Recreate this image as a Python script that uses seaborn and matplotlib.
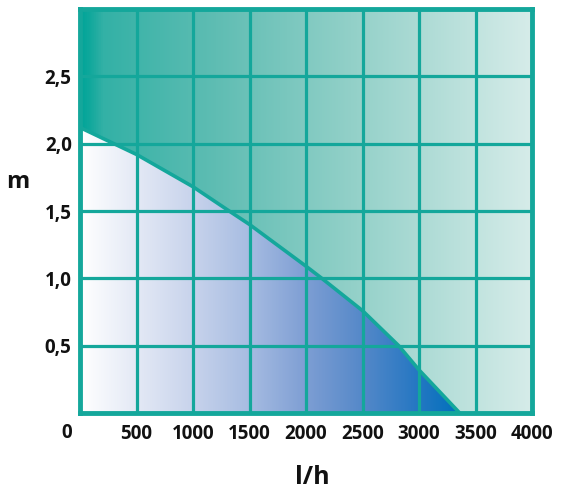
import numpy as np
import pandas as pd
import matplotlib
matplotlib.use("Agg")
import matplotlib.pyplot as plt
import seaborn as sns
from matplotlib.colors import LinearSegmentedColormap

# pump curve
flow = [0, 300, 500, 1000, 1320, 1500, 2000, 2140, 2500, 2820, 3000, 3360]
head = [2.12, 2.0, 1.92, 1.68, 1.5, 1.40, 1.09, 1.0, 0.76, 0.5, 0.32, 0.0]

x_ticks = [500, 1000, 1500, 2000, 2500, 3000, 3500, 4000]
y_ticks = [0.5, 1.0, 1.5, 2.0, 2.5]
y_labels = ["0,5", "1,0", "1,5", "2,0", "2,5"]

teal = "#14a79b"

sns.set_style("white")
plt.rcParams['font.family'] = ['Open Sans', 'DejaVu Sans']
plt.rcParams['font.weight'] = 'bold'

df = pd.DataFrame({"flow": flow, "head": head})

fig = plt.figure(figsize=(5.76, 5.0), dpi=100)
ax = fig.add_axes([80 / 576, 1 - 413 / 500, 452 / 576, 404 / 500])

xmax, ymax = 4000, 3.0

# region above the curve (teal gradient)
fx = flow + [xmax]
fy = head + [0.0]
top = ax.fill_between(fx, fy, ymax, facecolor="none", lw=0)
teal_cmap = LinearSegmentedColormap.from_list(
    "teal", [(0, "#00a498"), (0.02, "#10a89c"), (0.05, "#33b1a6"),
             (0.3, "#5fbdb3"), (0.6, "#92d0c8"), (1.0, "#d6ece9")])
grad = np.linspace(0, 1, 512).reshape(1, -1)
im1 = ax.imshow(grad, extent=[0, xmax, 0, ymax], aspect="auto",
                cmap=teal_cmap, origin="lower", zorder=1)
im1.set_clip_path(top.get_paths()[0], transform=ax.transData)

# region below the curve (blue gradient)
bot = ax.fill_between(flow, 0, head, facecolor="none", lw=0)
blue_cmap = LinearSegmentedColormap.from_list(
    "blue", [(0, "#ffffff"), (0.29, "#c9d4ec"), (0.44, "#a8bde2"),
             (0.59, "#7f9fd4"), (0.74, "#5689c9"), (0.88, "#2878c3"),
             (1.0, "#0070bc")])
im2 = ax.imshow(grad, extent=[0, flow[-1], 0, ymax], aspect="auto",
                cmap=blue_cmap, origin="lower", zorder=1)
im2.set_clip_path(bot.get_paths()[0], transform=ax.transData)

# grid
for xv in x_ticks[:-1]:
    ax.axvline(xv, color=teal, lw=2.3, zorder=3)
for yv in y_ticks:
    ax.axhline(yv, color=teal, lw=2.3, zorder=3)

sns.lineplot(data=df, x="flow", y="head", color=teal, lw=2.6, ax=ax,
             zorder=4, sort=False)

ax.set_xlim(0, xmax)
ax.set_ylim(0, ymax)
ax.set_xticks(x_ticks)
ax.set_xticklabels([str(v) for v in x_ticks])
ax.set_yticks(y_ticks)
ax.set_yticklabels(y_labels)
ax.tick_params(length=0, labelsize=13.5, colors="#111111")
ax.tick_params(axis="x", pad=8)
ax.tick_params(axis="y", pad=6)
for lab in ax.get_xticklabels() + ax.get_yticklabels():
    lab.set_fontweight("bold")
ax.set_xlabel("")
ax.set_ylabel("")

for sp in ax.spines.values():
    sp.set_color(teal)
    sp.set_linewidth(3.5)
    sp.set_zorder(5)

fig.text(67 / 576, 1 - 433 / 500, "0", ha="center", va="center",
         fontsize=13.5, fontweight="bold", color="#111111")
fig.text(18 / 576, 1 - 182 / 500, "m", ha="center", va="center",
         fontsize=17, fontweight="bold", color="#111111")
fig.text(312 / 576, 1 - 477 / 500, "l/h", ha="center", va="center",
         fontsize=18, fontweight="bold", color="#111111")

fig.savefig("out.png", dpi=100)
